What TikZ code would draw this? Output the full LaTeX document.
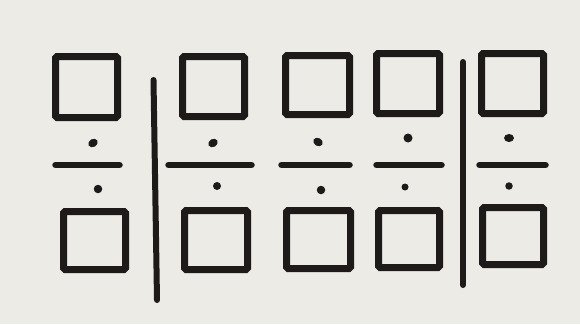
\documentclass[tikz,border=0pt]{standalone}
\usetikzlibrary{shapes.geometric}
\definecolor{paper}{HTML}{ECEBE6}
\definecolor{ink}{HTML}{1E1A1A}
\begin{document}
\begin{tikzpicture}[x=1pt,y=-1pt,
  box/.style={draw=ink,line width=7pt,rectangle,inner sep=0pt,rounded corners=1.5pt},
  bar/.style={draw=ink,line width=6.5pt,line cap=round},
  divider/.style={draw=ink,line width=6pt,line cap=round},
  blob/.style={fill=ink,ellipse,inner sep=0pt,minimum width=10pt,minimum height=8pt},
  smallblob/.style={fill=ink,circle,inner sep=0pt,minimum size=8pt}]
\useasboundingbox[fill=paper] (0,0) rectangle (580,324);
% squares
\node[box,minimum width=62pt,minimum height=61pt] (t1) at (86.5,87) {};
\node[box,minimum width=62pt,minimum height=58pt] (u1) at (94.5,240.5) {};
\node[box,minimum width=62pt,minimum height=60pt] (t2) at (213.5,86.5) {};
\node[box,minimum width=63pt,minimum height=59pt] (u2) at (216,240) {};
\node[box,minimum width=64pt,minimum height=59pt] (t3) at (317.5,85) {};
\node[box,minimum width=64pt,minimum height=58pt] (u3) at (318.5,239.5) {};
\node[box,minimum width=63pt,minimum height=60pt] (t4) at (408,83.5) {};
\node[box,minimum width=61pt,minimum height=57pt] (u4) at (409,239) {};
\node[box,minimum width=62pt,minimum height=60pt] (t5) at (512.5,83.5) {};
\node[box,minimum width=61pt,minimum height=57pt] (u5) at (513,236) {};
% dots
\node[blob,rotate=30] (d1) at (93,143) {};
\node[smallblob,minimum size=8.5pt] (e1) at (98,189) {};
\node[blob,rotate=30] (d2) at (213,143) {};
\node[smallblob] (e2) at (217,186) {};
\node[blob,rotate=-30] (d3) at (318,142) {};
\node[smallblob,minimum size=8.5pt] (e3) at (321,190) {};
\node[smallblob,minimum size=9pt] (d4) at (408,138) {};
\node[smallblob,minimum size=7pt] (e4) at (405,187) {};
\node[blob] (d5) at (509,138) {};
\node[smallblob,minimum size=7.5pt] (e5) at (509,186) {};
% bar end points
\coordinate (b1l) at (55.5,165); \coordinate (b1r) at (119.5,165);
\coordinate (b2l) at (168.5,165); \coordinate (b2r) at (251.5,165);
\coordinate (b3l) at (281.5,165); \coordinate (b3r) at (349.5,165);
\coordinate (b4l) at (376.5,165); \coordinate (b4r) at (441.5,165);
\coordinate (b5l) at (479.5,165); \coordinate (b5r) at (545.5,165);
\draw[bar] (b1l) -- (b1r);
\draw[bar] (b2l) -- (b2r);
\draw[bar] (b3l) -- (b3r);
\draw[bar] (b4l) -- (b4r);
\draw[bar] (b5l) -- (b5r);
% dividers
\coordinate (v1a) at (153.5,80); \coordinate (v1b) at (157,300);
\coordinate (v2a) at (463,62); \coordinate (v2b) at (463,285);
\draw[divider] (v1a) -- (v1b);
\draw[divider] (v2a) -- (v2b);
\end{tikzpicture}
\end{document}
